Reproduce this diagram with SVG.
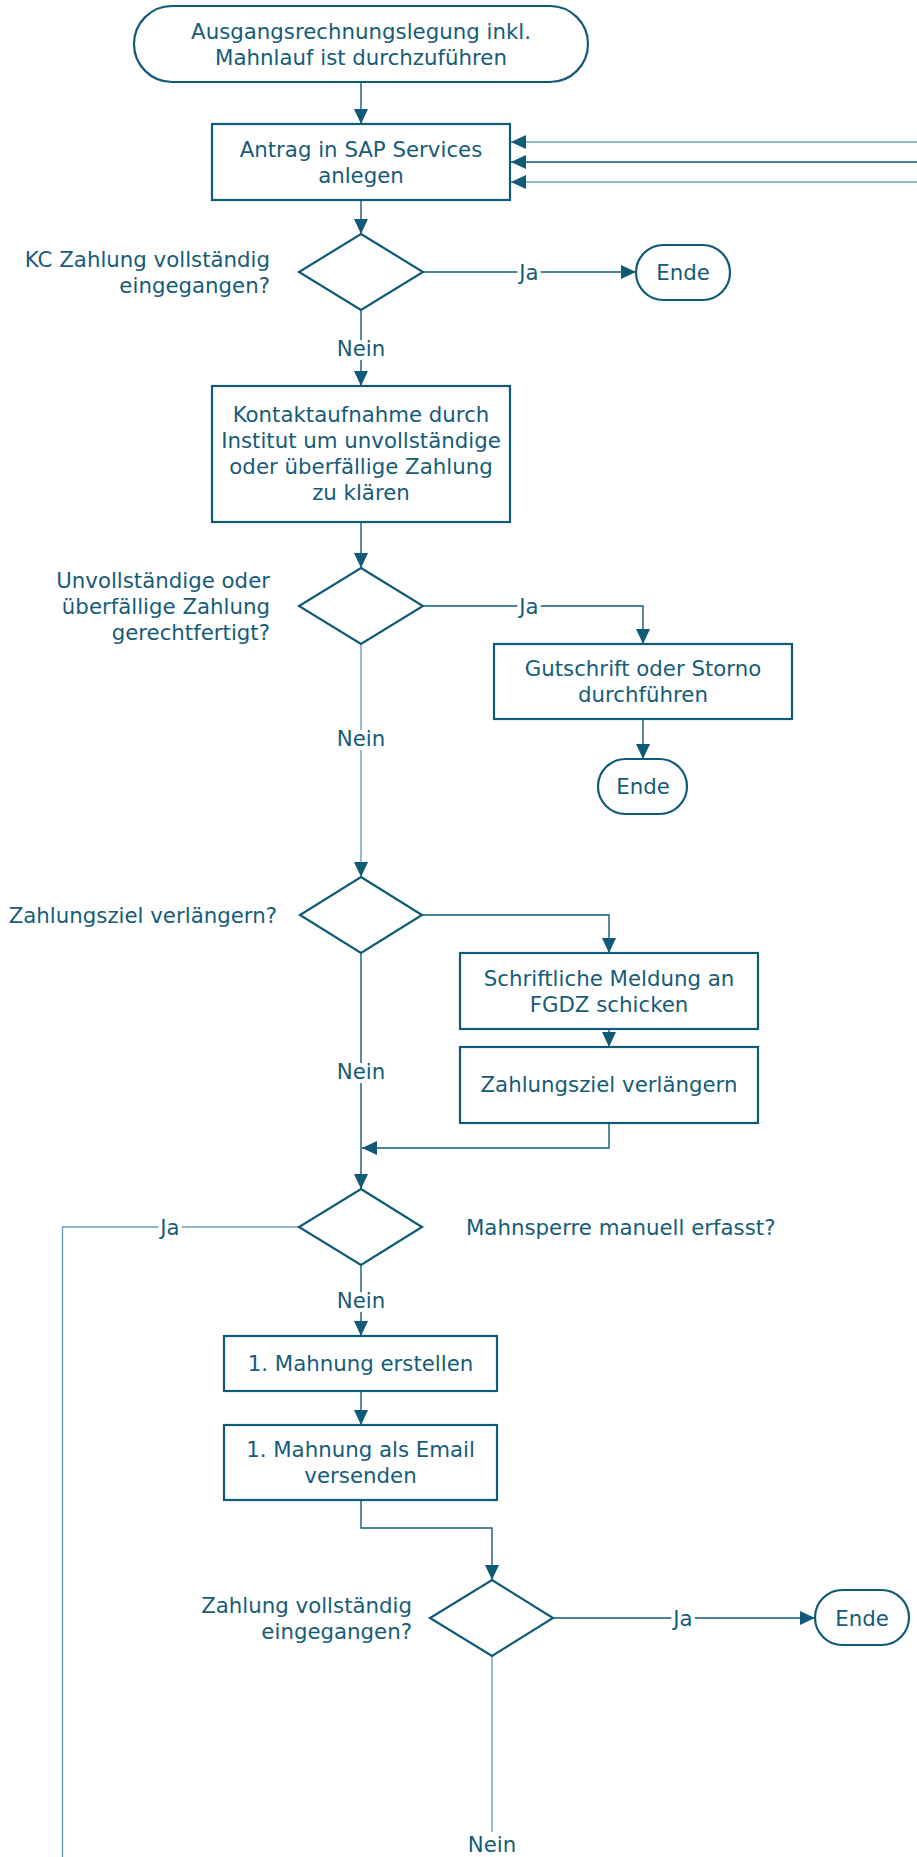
<svg xmlns="http://www.w3.org/2000/svg" width="917" height="1857" viewBox="0 0 917 1857">
<defs>
<style>
.shape{fill:#fff;stroke:#0f5a77;stroke-width:2.2}
.con{fill:none;stroke:#105c79;stroke-width:1.4}
.lt{stroke:#6f9fb2;stroke-width:1.4}
text{font-family:"DejaVu Sans","Verdana",sans-serif;font-size:21.3px;fill:#165c78}
.c{text-anchor:middle;dominant-baseline:central}
.r{text-anchor:end;dominant-baseline:central}
.l{text-anchor:start;dominant-baseline:central}
.lbl{paint-order:stroke;stroke:#fff;stroke-width:8px}
</style>
<marker id="ah" markerUnits="userSpaceOnUse" markerWidth="16" markerHeight="16" viewBox="0 0 16 16" refX="15" refY="8" orient="auto">
<path d="M0,1 L15,8 L0,15 Z" fill="#0f5a77"/>
</marker>
</defs>
<g id="connectors">
<path class="con" d="M361,82 V124" marker-end="url(#ah)"/>
<path class="con lt" d="M917,142 H511" marker-end="url(#ah)"/>
<path class="con" d="M917,162 H511" marker-end="url(#ah)"/>
<path class="con lt" d="M917,182 H511" marker-end="url(#ah)"/>
<path class="con" d="M361,200 V234" marker-end="url(#ah)"/>
<path class="con" d="M423,272 H636" marker-end="url(#ah)"/>
<path class="con" d="M361,310 V386" marker-end="url(#ah)"/>
<path class="con" d="M361,522 V568" marker-end="url(#ah)"/>
<path class="con" d="M423,606 H643 V644" marker-end="url(#ah)"/>
<path class="con" d="M643,719 V759" marker-end="url(#ah)"/>
<path class="con lt" d="M361,644 V877" marker-end="url(#ah)"/>
<path class="con" d="M422,915 H609 V953" marker-end="url(#ah)"/>
<path class="con" d="M609,1029 V1047" marker-end="url(#ah)"/>
<path class="con" d="M609,1123 V1148 H362" marker-end="url(#ah)"/>
<path class="con" d="M361,953 V1189" marker-end="url(#ah)"/>
<path class="con lt" d="M299,1227 H62.5 V1857"/>
<path class="con" d="M361,1265 V1336" marker-end="url(#ah)"/>
<path class="con" d="M361,1391 V1425" marker-end="url(#ah)"/>
<path class="con" d="M361,1500 V1528 H492 V1580" marker-end="url(#ah)"/>
<path class="con" d="M553,1618 H815" marker-end="url(#ah)"/>
<path class="con lt" d="M492,1656 V1832"/>
<text class="c lbl" x="529" y="272">Ja</text>
<text class="c lbl" x="361" y="348">Nein</text>
<text class="c lbl" x="529" y="606">Ja</text>
<text class="c lbl" x="361" y="738">Nein</text>
<text class="c lbl" x="361" y="1071">Nein</text>
<text class="c lbl" x="170" y="1227">Ja</text>
<text class="c lbl" x="361" y="1300">Nein</text>
<text class="c lbl" x="683" y="1618">Ja</text>
<text class="c lbl" x="492" y="1844">Nein</text>
</g>
<g id="start">
<rect class="shape" x="134" y="6" width="454" height="76" rx="38"/>
<text class="c" x="361" y="31">Ausgangsrechnungslegung inkl.</text>
<text class="c" x="361" y="57">Mahnlauf ist durchzuführen</text>
</g>
<g id="antrag">
<rect class="shape" x="212" y="124" width="298" height="76"/>
<text class="c" x="361" y="149">Antrag in SAP Services</text>
<text class="c" x="361" y="175">anlegen</text>
</g>
<g id="d1">
<polygon class="shape" points="361,234 423,272 361,310 299,272"/>
<text class="r" x="270" y="259">KC Zahlung vollständig</text>
<text class="r" x="270" y="285">eingegangen?</text>
</g>
<g id="ende1">
<rect class="shape" x="636" y="245" width="94" height="55" rx="27.5"/>
<text class="c" x="683" y="272">Ende</text>
</g>
<g id="kontakt">
<rect class="shape" x="212" y="386" width="298" height="136"/>
<text class="c" x="361" y="414">Kontaktaufnahme durch</text>
<text class="c" x="361" y="440">Institut um unvollständige</text>
<text class="c" x="361" y="466">oder überfällige Zahlung</text>
<text class="c" x="361" y="492">zu klären</text>
</g>
<g id="d2">
<polygon class="shape" points="361,568 423,606 361,644 299,606"/>
<text class="r" x="270" y="580">Unvollständige oder</text>
<text class="r" x="270" y="606">überfällige Zahlung</text>
<text class="r" x="270" y="632">gerechtfertigt?</text>
</g>
<g id="gutschrift">
<rect class="shape" x="494" y="644" width="298" height="75"/>
<text class="c" x="643" y="668">Gutschrift oder Storno</text>
<text class="c" x="643" y="694">durchführen</text>
</g>
<g id="ende2">
<rect class="shape" x="598" y="759" width="89" height="55" rx="27.5"/>
<text class="c" x="643" y="786">Ende</text>
</g>
<g id="d3">
<polygon class="shape" points="361,877 422,915 361,953 300,915"/>
<text class="r" x="277" y="915">Zahlungsziel verlängern?</text>
</g>
<g id="meldung">
<rect class="shape" x="460" y="953" width="298" height="76"/>
<text class="c" x="609" y="978">Schriftliche Meldung an</text>
<text class="c" x="609" y="1004">FGDZ schicken</text>
</g>
<g id="verlaengern">
<rect class="shape" x="460" y="1047" width="298" height="76"/>
<text class="c" x="609" y="1084">Zahlungsziel verlängern</text>
</g>
<g id="d4">
<polygon class="shape" points="361,1189 422,1227 361,1265 299,1227"/>
<text class="l" x="466" y="1227">Mahnsperre manuell erfasst?</text>
</g>
<g id="mahnung">
<rect class="shape" x="224" y="1336" width="273" height="55"/>
<text class="c" x="360.5" y="1363">1. Mahnung erstellen</text>
</g>
<g id="email">
<rect class="shape" x="224" y="1425" width="273" height="75"/>
<text class="c" x="360.5" y="1449">1. Mahnung als Email</text>
<text class="c" x="360.5" y="1475">versenden</text>
</g>
<g id="d5">
<polygon class="shape" points="492,1580 553,1618 492,1656 430,1618"/>
<text class="r" x="412" y="1605">Zahlung vollständig</text>
<text class="r" x="412" y="1631">eingegangen?</text>
</g>
<g id="ende3">
<rect class="shape" x="815" y="1590" width="94" height="55" rx="27.5"/>
<text class="c" x="862" y="1618">Ende</text>
</g>
</svg>
